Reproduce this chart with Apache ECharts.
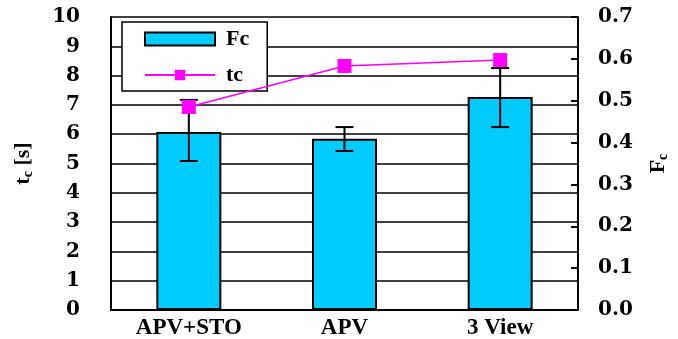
<!DOCTYPE html>
<html>
<head>
<meta charset="utf-8">
<script src="https://cdn.jsdelivr.net/npm/echarts@6/dist/echarts.min.js"></script>
<style>html,body{margin:0;padding:0;background:#fff}#c{width:678px;height:339px}</style>
</head>
<body>
<div id="c"></div>
<script>
var categories = ['APV+STO', 'APV', '3 View'];
var fcValues = [0.425, 0.409, 0.509];
var fcErrLow = [0.356, 0.380, 0.437];
var fcErrHigh = [0.502, 0.437, 0.578];
var tcValues = [6.93, 8.33, 8.53];
var leftTicks = [0, 10, 1];
var rightTicks = [0, 0.7, 0.1];

var FONT = '"DejaVu Serif", "Liberation Serif", serif';
var TFONT = '"Liberation Serif", "Times New Roman", serif';
var chart = echarts.init(document.getElementById('c'));
var errData = categories.map(function (c, i) { return [i, fcErrLow[i], fcErrHigh[i]]; });

chart.setOption({
  animation: false,
  backgroundColor: '#fff',
  grid: { left: 111, right: 100, top: 17, bottom: 29, containLabel: false, outerBoundsMode: 'none' },
  legend: {
    orient: 'vertical', left: 122, top: 22,
    backgroundColor: '#fff', borderColor: '#000', borderWidth: 1.5, borderRadius: 0,
    padding: [6, 18, 5, 22], itemWidth: 70, itemHeight: 13, itemGap: 14,
    textStyle: { fontFamily: TFONT, fontWeight: 'bold', fontSize: 22, color: '#000', lineHeight: 20, padding: [0, 0, 0, 6] },
    data: [{ name: 'Fc', icon: 'rect' }, { name: 'tc' }]
  },
  xAxis: {
    type: 'category', data: categories,
    axisLine: { lineStyle: { color: '#000', width: 2 } },
    axisTick: { inside: true, length: 4, lineStyle: { color: '#000', width: 2 } },
    axisLabel: { fontFamily: TFONT, fontWeight: 'bold', fontSize: 23, color: '#000', margin: 7 }
  },
  yAxis: [{
    type: 'value', min: leftTicks[0], max: leftTicks[1], interval: leftTicks[2], position: 'left',
    name: '{a|t}{s|c}{a| [s]}', nameLocation: 'middle', nameRotate: 90, nameGap: 76,
    nameTextStyle: { fontSize: 22, rich: {
      a: { fontFamily: TFONT, fontWeight: 'bold', fontSize: 22, color: '#000' },
      s: { fontFamily: TFONT, fontWeight: 'bold', fontSize: 14, color: '#000', verticalAlign: 'bottom', padding: [10, 0, 0, 0] } } },
    axisLine: { show: true, lineStyle: { color: '#000', width: 2 } },
    axisTick: { show: false },
    splitLine: { show: true, lineStyle: { color: '#000', width: 1.5 } },
    axisLabel: { fontFamily: FONT, fontWeight: 'bold', fontSize: 20, color: '#000', margin: 31 }
  }, {
    type: 'value', min: rightTicks[0], max: rightTicks[1], interval: rightTicks[2], position: 'right',
    name: '{a|F}{s|c}', nameLocation: 'middle', nameRotate: 90, nameGap: 68,
    nameTextStyle: { fontSize: 22, rich: {
      a: { fontFamily: TFONT, fontWeight: 'bold', fontSize: 22, color: '#000' },
      s: { fontFamily: TFONT, fontWeight: 'bold', fontSize: 14, color: '#000', verticalAlign: 'bottom', padding: [10, 0, 0, 0] } } },
    axisLine: { show: true, lineStyle: { color: '#000', width: 2 } },
    axisTick: { show: true, inside: true, length: 7, lineStyle: { color: '#000', width: 2 } },
    splitLine: { show: false },
    axisLabel: { fontFamily: FONT, fontWeight: 'bold', fontSize: 20, color: '#000', margin: 20,
      formatter: function (v) { return v.toFixed(1); } }
  }],
  series: [{
    name: 'Fc', type: 'bar', yAxisIndex: 1, data: fcValues, barWidth: 65,
    itemStyle: { color: '#00CCFF', borderColor: '#000', borderWidth: 2 }, z: 2
  }, {
    name: 'err', type: 'custom', yAxisIndex: 1, data: errData, z: 3,
    renderItem: function (params, api) {
      var x = api.value(0);
      var lo = api.coord([x, api.value(1)]);
      var hi = api.coord([x, api.value(2)]);
      var hw = 9;
      var st = { stroke: '#000', lineWidth: 2 };
      return { type: 'group', children: [
        { type: 'line', shape: { x1: lo[0], y1: lo[1], x2: hi[0], y2: hi[1] }, style: st },
        { type: 'line', shape: { x1: lo[0] - hw, y1: lo[1], x2: lo[0] + hw, y2: lo[1] }, style: st },
        { type: 'line', shape: { x1: hi[0] - hw, y1: hi[1], x2: hi[0] + hw, y2: hi[1] }, style: st }
      ]};
    }
  }, {
    name: 'tc', type: 'line', yAxisIndex: 0, data: tcValues, z: 4,
    symbol: 'rect', symbolSize: 14,
    lineStyle: { color: '#FF00FF', width: 1.5 },
    itemStyle: { color: '#FF00FF' }
  }]
});
</script>
</body>
</html>
